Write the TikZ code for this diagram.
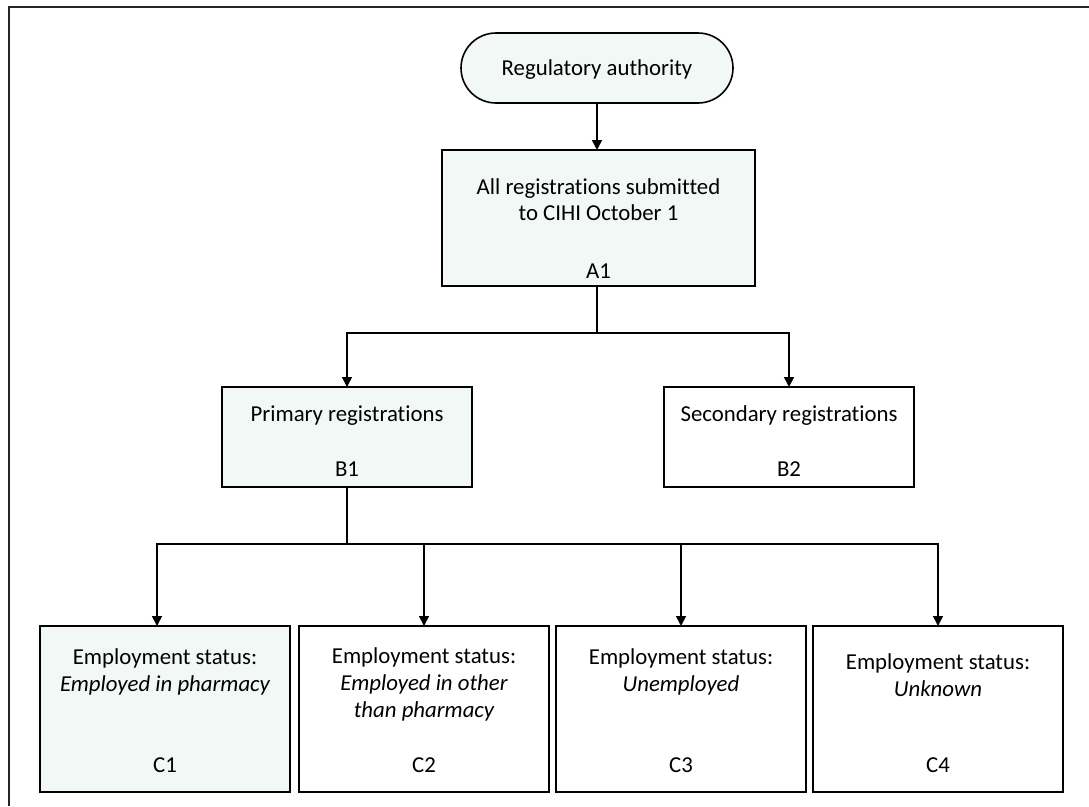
\documentclass[tikz,border=0pt]{standalone}
\usepackage{fontspec}
\setmainfont{Carlito}[Ligatures=CommonOff]
\usetikzlibrary{arrows.meta,shapes.misc}
\definecolor{boxfill}{HTML}{F2F8F6}
\tikzset{
  line/.style={line width=1.6pt, draw=black},
  arr/.style={line, -{Triangle[length=10pt,width=10pt]}},
  flowbox/.style={rectangle, line, inner sep=0pt, outer sep=0pt, anchor=north west},
  shaded/.style={fill=boxfill},
  txt/.style={inner sep=0pt, anchor=base, font=\fontsize{22.8}{26}\selectfont},
}
\begin{document}
\begin{tikzpicture}[x=1pt,y=-1pt]
\useasboundingbox (0,0) rectangle (1089,806);
% frame (top and left edges)
\coordinate (fbl) at (9,806);
\coordinate (ftl) at (9,7);
\coordinate (ftr) at (1089,7);
\draw[line width=2pt, draw=black!85] (fbl) -- (ftl) -- (ftr);

% terminal
\node[rounded rectangle, line, shaded, minimum width=272pt, minimum height=70pt, inner sep=0pt, outer sep=0pt] (term) at (597,68) {};
\node[txt] (termt) at (597,75) {Regulatory authority};

% A1
\node[flowbox, shaded, minimum width=313pt, minimum height=136pt] (a1) at (442,150) {};
\node[txt] (a1t1) at (598.5,194) {All registrations submitted};
\node[txt] (a1t2) at (598.5,220) {to CIHI October 1};
\node[txt] (a1l) at (598.5,278) {A1};

% B boxes
\node[flowbox, shaded, minimum width=250pt, minimum height=100pt] (b1) at (222,387) {};
\node[txt] (b1t) at (347,421) {Primary registrations};
\node[txt] (b1l) at (347,476) {B1};
\node[flowbox, minimum width=250pt, minimum height=100pt] (b2) at (664,387) {};
\node[txt] (b2t) at (789,421) {Secondary registrations};
\node[txt] (b2l) at (789,476) {B2};

% C boxes
\node[flowbox, shaded, minimum width=250pt, minimum height=166pt] (c1) at (40,626) {};
\node[txt] (c1t1) at (165,664) {Employment status:};
\node[txt] (c1t2) at (165,691) {\itshape Employed in pharmacy};
\node[txt] (c1l) at (165,772) {C1};

\node[flowbox, minimum width=250pt, minimum height=166pt] (c2) at (299,626) {};
\node[txt] (c2t1) at (424,663) {Employment status:};
\node[txt] (c2t2) at (424,690) {\itshape Employed in other};
\node[txt] (c2t3) at (424,717) {\itshape than pharmacy};
\node[txt] (c2l) at (424,772) {C2};

\node[flowbox, minimum width=250pt, minimum height=166pt] (c3) at (556,626) {};
\node[txt] (c3t1) at (681,664) {Employment status:};
\node[txt] (c3t2) at (681,691) {\itshape Unemployed};
\node[txt] (c3l) at (681,772) {C3};

\node[flowbox, minimum width=250pt, minimum height=166pt] (c4) at (813,626) {};
\node[txt] (c4t1) at (938,669) {Employment status:};
\node[txt] (c4t2) at (938,696) {\itshape Unknown};
\node[txt] (c4l) at (938,772) {C4};

% connectors
\draw[arr] (term.south) -- (term.south |- a1.north);
\coordinate (j1) at (597,333);
\draw[line] (j1 |- a1.south) -- (j1);
\draw[arr] (j1) -| (b1.north);
\draw[arr] (j1) -| (b2.north);
\coordinate (j2) at (347,544);
\draw[line] (b1.south) -- (j2);
\draw[arr] (j2) -| ([xshift=-8pt]c1.north);
\draw[arr] (j2) -| (c2.north);
\draw[arr] (j2) -| (c3.north);
\draw[arr] (j2) -| (c4.north);
\end{tikzpicture}
\end{document}
